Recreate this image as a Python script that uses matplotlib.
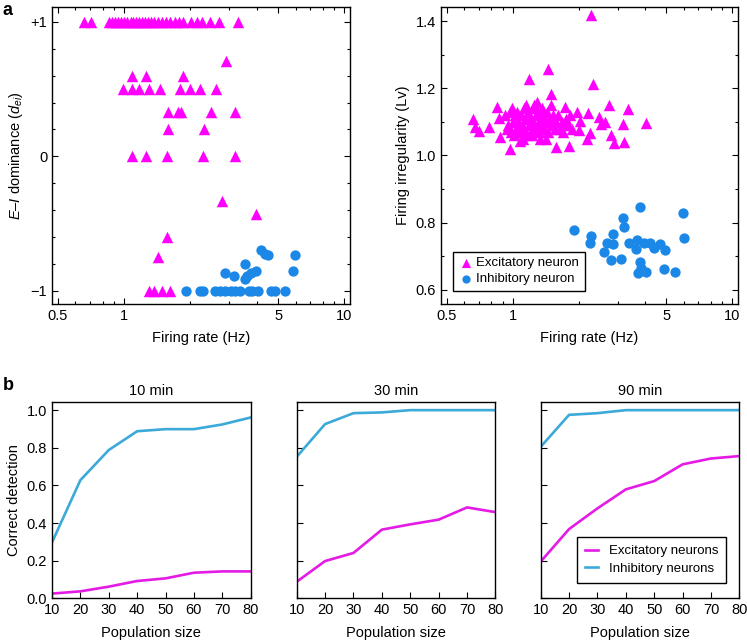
import numpy as np
import matplotlib
matplotlib.use('Agg')
import matplotlib.pyplot as plt
from matplotlib.ticker import FixedLocator, MultipleLocator, LogLocator, NullFormatter

plt.rcParams['font.family'] = ['Liberation Sans', 'DejaVu Sans']
plt.rcParams['mathtext.fontset'] = 'custom'
plt.rcParams['mathtext.rm'] = 'Liberation Sans'
plt.rcParams['mathtext.it'] = 'Liberation Sans:italic'
plt.rcParams['font.size'] = 10.5

MAGENTA = '#FF00FF'
BLUE_DOT = '#1B87E6'
LINE_MAG = '#E41BE4'
LINE_BLUE = '#3BAAD9'
FS = 10.5

# ---- panel a, left: firing rate vs E-I dominance ----
exc_rate_ei = [0.66, 0.71, 0.85, 0.88, 0.91, 0.94, 0.97, 1.0, 1.03, 1.07, 1.1, 1.13, 1.17,
               1.2, 1.24, 1.28, 1.32, 1.37, 1.42, 1.48, 1.55, 1.62, 1.7, 1.78, 1.85, 2.02,
               2.13, 2.25, 2.45, 2.69, 3.29,
               2.89,
               1.09, 1.25, 1.85,
               0.99, 1.09, 1.17, 1.29, 1.46, 1.80, 2.0, 2.22, 2.61,
               1.58, 1.75, 1.81, 2.49, 3.19,
               1.58, 2.31,
               1.08, 1.26, 1.56, 2.28, 3.17,
               2.78, 3.97, 1.57, 1.42,
               1.29, 1.36, 1.48, 1.62]
exc_dei = [1.0] * 31 + [0.71] + [0.6] * 3 + [0.5] * 9 + [0.33] * 5 + [0.2] * 2 + [0.0] * 5 \
    + [-0.33, -0.43, -0.6, -0.75] + [-1.0] * 4

inh_rate_ei = [1.90, 2.20, 2.28, 2.58, 2.72, 2.86, 3.05, 3.18, 3.35, 3.70, 3.82, 4.05, 4.66,
               4.82, 5.39,
               4.2, 4.35, 4.5, 5.94, 5.84, 3.53, 3.98, 3.78, 3.62, 3.55, 2.86, 3.14]
inh_dei = [-1.0] * 15 + [-0.70, -0.725, -0.735, -0.735, -0.855, -0.80, -0.85, -0.87,
                         -0.89, -0.91, -0.87, -0.89]

# ---- panel a, right: firing rate vs Lv ----
exc_rate_lv = [2.26, 1.44, 1.19, 2.32, 1.49, 0.85, 1.29, 1.50, 1.73, 2.74, 3.33, 4.04, 0.66,
               0.675, 0.705, 0.777, 0.872, 0.976, 1.077, 1.42, 1.57, 1.80, 2.17, 2.24, 2.19,
               2.47, 2.62, 2.51, 2.79, 2.89, 3.21, 3.19, 0.863, 1.97, 2.02, 2.0,
               0.92, 0.95, 0.97, 0.98, 1.00, 1.02, 1.03, 1.05, 1.06, 1.08, 1.09, 1.10, 1.12,
               1.13, 1.14, 1.16, 1.17, 1.18, 1.20, 1.21, 1.23, 1.24, 1.26, 1.27, 1.29, 1.30,
               1.32, 1.34, 1.35, 1.37, 1.39, 1.40, 1.43, 1.45, 1.47, 1.50, 1.52, 1.55, 1.58,
               1.61, 1.64, 1.67, 1.70, 1.74, 1.78, 1.82, 1.86, 0.94, 1.01, 1.11, 1.22, 1.33,
               1.15, 1.25, 1.36, 0.99]
exc_lv = [1.417, 1.259, 1.227, 1.214, 1.183, 1.145, 1.16, 1.15, 1.145, 1.15, 1.137, 1.098,
          1.108, 1.086, 1.074, 1.084, 1.054, 1.019, 1.044, 1.049, 1.025, 1.027, 1.049, 1.066,
          1.127, 1.116, 1.10, 1.094, 1.061, 1.037, 1.039, 1.094, 1.111, 1.13, 1.104, 1.076,
          1.12, 1.09, 1.13, 1.07, 1.10, 1.12, 1.08, 1.13, 1.10, 1.07, 1.12, 1.09, 1.14,
          1.08, 1.11, 1.06, 1.13, 1.09, 1.11, 1.07, 1.14, 1.10, 1.08, 1.12, 1.09, 1.13,
          1.07, 1.11, 1.09, 1.12, 1.08, 1.10, 1.13, 1.07, 1.11, 1.09, 1.12, 1.08, 1.10,
          1.12, 1.08, 1.10, 1.07, 1.11, 1.09, 1.12, 1.08, 1.08, 1.06, 1.05, 1.06, 1.05,
          1.15, 1.15, 1.14, 1.14]

inh_rate_lv = [1.90, 2.28, 2.24, 2.61, 2.68, 2.87, 2.87, 2.80, 3.11, 3.17, 3.20, 3.78, 3.39,
               3.67, 3.63, 3.94, 4.22, 4.40, 4.69, 4.93, 3.79, 3.70, 4.04, 3.83, 4.90, 5.47,
               5.94, 6.04]
inh_lv = [0.778, 0.76, 0.738, 0.711, 0.738, 0.765, 0.737, 0.689, 0.691, 0.814, 0.788, 0.847,
          0.74, 0.748, 0.72, 0.74, 0.74, 0.723, 0.735, 0.718, 0.683, 0.65, 0.652, 0.664,
          0.661, 0.652, 0.829, 0.753]

# ---- panel b: correct detection vs population size ----
pop_size = [10, 20, 30, 40, 50, 60, 70, 80]
durations = ['10 min', '30 min', '90 min']
exc_detect = [
    [0.025, 0.037, 0.062, 0.092, 0.106, 0.136, 0.143, 0.143],
    [0.088, 0.198, 0.241, 0.365, 0.393, 0.418, 0.483, 0.458],
    [0.195, 0.368, 0.478, 0.579, 0.623, 0.712, 0.743, 0.756],
]
inh_detect = [
    [0.297, 0.628, 0.788, 0.888, 0.899, 0.899, 0.924, 0.961],
    [0.752, 0.926, 0.984, 0.988, 1.0, 1.0, 1.0, 1.0],
    [0.805, 0.975, 0.984, 1.0, 1.0, 1.0, 1.0, 1.0],
]

fig = plt.figure(figsize=(7.47, 6.43), dpi=100)


def style_axes(ax, top_right=True):
    for s in ax.spines.values():
        s.set_linewidth(1.0)
    ax.tick_params(which='both', direction='in', top=top_right, right=top_right,
                   labelsize=FS, width=0.8)
    ax.tick_params(which='major', length=4)
    ax.tick_params(which='minor', length=2)


def log_rate_axis(ax):
    ax.set_xscale('log')
    ax.set_xlim(0.47, 10.6)
    ax.xaxis.set_major_locator(FixedLocator([0.5, 1, 5, 10]))
    ax.set_xticklabels(['0.5', '1', '5', '10'])
    ax.xaxis.set_minor_locator(LogLocator(base=10, subs=np.arange(2, 10)))
    ax.xaxis.set_minor_formatter(NullFormatter())
    ax.set_xlabel('Firing rate (Hz)', fontsize=FS, labelpad=6)


ms_tri = 68
ms_dot = 55

ax1 = fig.add_axes([0.0696, 0.527, 0.3989, 0.462])
ax1.scatter(exc_rate_ei, exc_dei, marker='^', s=ms_tri, color=MAGENTA, linewidths=0, zorder=3)
ax1.scatter(inh_rate_ei, inh_dei, marker='o', s=ms_dot, color=BLUE_DOT, linewidths=0, zorder=3)
log_rate_axis(ax1)
ax1.set_ylim(-1.1, 1.11)
ax1.yaxis.set_major_locator(FixedLocator([-1, 0, 1]))
ax1.set_yticklabels(['\u22121', '0', '+1'])
ax1.yaxis.set_minor_locator(MultipleLocator(0.2))
ax1.set_ylabel('$E$\u2013$I$ dominance ($d_{ei}$)', fontsize=FS)
style_axes(ax1)

ax2 = fig.add_axes([0.590, 0.527, 0.398, 0.462])
ax2.scatter(exc_rate_lv, exc_lv, marker='^', s=ms_tri, color=MAGENTA, linewidths=0,
            zorder=3, label='Excitatory neuron')
ax2.scatter(inh_rate_lv, inh_lv, marker='o', s=ms_dot, color=BLUE_DOT, linewidths=0,
            zorder=3, label='Inhibitory neuron')
log_rate_axis(ax2)
ax2.set_ylim(0.557, 1.442)
ax2.yaxis.set_major_locator(FixedLocator([0.6, 0.8, 1.0, 1.2, 1.4]))
ax2.yaxis.set_minor_locator(MultipleLocator(0.1))
ax2.set_ylabel('Firing irregularity (Lv)', fontsize=FS)
style_axes(ax2)
leg = ax2.legend(loc='lower left', bbox_to_anchor=(0.04, 0.045), fontsize=9.5,
                 fancybox=False, framealpha=1, edgecolor='black', handletextpad=0.2,
                 borderpad=0.4, labelspacing=0.3, handlelength=1.2, borderaxespad=0,
                 markerscale=0.8)
leg.get_frame().set_linewidth(1.0)

lefts = [0.0696, 0.3972, 0.7238]
for i, dur in enumerate(durations):
    ax = fig.add_axes([lefts[i], 0.0695, 0.266, 0.3058])
    ax.plot(pop_size, exc_detect[i], color=LINE_MAG, lw=1.9, label='Excitatory neurons')
    ax.plot(pop_size, inh_detect[i], color=LINE_BLUE, lw=1.9, label='Inhibitory neurons')
    ax.set_xlim(10, 80)
    ax.set_ylim(0, 1.045)
    ax.set_xticks(pop_size)
    ax.set_yticks([0, 0.2, 0.4, 0.6, 0.8, 1.0])
    style_axes(ax, top_right=False)
    ax.set_title(dur, fontsize=FS, pad=5)
    ax.set_xlabel('Population size', fontsize=FS, labelpad=6)
    if i == 0:
        ax.set_ylabel('Correct detection', fontsize=FS)
    else:
        ax.set_yticklabels([])
    if i == 2:
        lg = ax.legend(loc='lower right', bbox_to_anchor=(0.935, 0.08), fontsize=9.5,
                       fancybox=False, framealpha=1, edgecolor='black', handlelength=1.0,
                       handletextpad=0.8, borderpad=0.6, labelspacing=0.4, borderaxespad=0)
        lg.get_frame().set_linewidth(1.0)

fig.text(0.004, 0.997, 'a', fontsize=13, fontweight='bold', va='top', ha='left')
fig.text(0.004, 0.413, 'b', fontsize=13, fontweight='bold', va='top', ha='left')

fig.savefig('out.png', dpi=100)
plt.close(fig)
